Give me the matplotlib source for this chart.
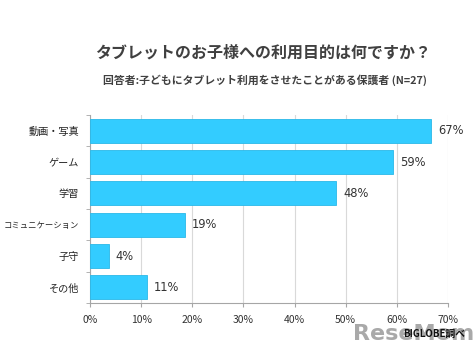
import matplotlib
matplotlib.use("Agg")
import matplotlib.pyplot as plt
from matplotlib.ticker import MultipleLocator, FuncFormatter

plt.rcParams['font.family'] = ['Noto Sans CJK JP', 'DejaVu Sans']

categories = ["動画・写真", "ゲーム", "学習", "コミュニケーション", "子守", "その他"]
values = [66.7, 59.3, 48.1, 18.5, 3.7, 11.1]
value_labels = ["67%", "59%", "48%", "19%", "4%", "11%"]
title = "タブレットのお子様への利用目的は何ですか？"
subtitle = "回答者:子どもにタブレット利用をさせたことがある保護者 (N=27)"

fig = plt.figure(figsize=(4.77, 3.5), dpi=100)
ax = fig.add_axes([0.1887, 0.1343, 0.7505, 0.537])

ypos = list(range(len(categories)))
ax.barh(ypos, values, height=0.76, color="#33CCFF", edgecolor="#2BB8E8", linewidth=0.6, zorder=3)
ax.set_ylim(len(categories) - 0.5, -0.5)
ax.set_xlim(0, 70)
ax.xaxis.set_major_locator(MultipleLocator(10))
ax.xaxis.set_major_formatter(FuncFormatter(lambda v, p: f"{int(round(v))}%"))
ax.grid(axis="x", color="#D9D9D9", linewidth=0.8, zorder=0)
ax.set_yticks(ypos)
ax.set_yticklabels(categories, fontsize=7.3, color="#222222")
for lab in ax.get_yticklabels():
    if len(lab.get_text()) > 6:
        lab.set_fontsize(6.0)
ax.set_yticks([y + 0.5 for y in [-1] + ypos], minor=True)
ax.tick_params(axis="y", which="major", length=0, pad=8)
ax.tick_params(axis="y", which="minor", length=3, color="#A6A6A6")
ax.tick_params(axis="x", length=3, color="#A6A6A6", labelsize=7.5, labelcolor="#333333", pad=6)
for s in ["top", "right"]:
    ax.spines[s].set_visible(False)
for s in ["left", "bottom"]:
    ax.spines[s].set_color("#A6A6A6")
    ax.spines[s].set_linewidth(0.8)

for y, v, lab in zip(ypos, values, value_labels):
    ax.annotate(lab, (v, y), xytext=(5, 0), textcoords="offset points",
                va="center", ha="left", fontsize=8.3, color="#333333",
                family=['DejaVu Sans'])

fig.text(0.552, 0.85, title, ha="center", va="center", fontsize=11.5,
         fontweight="bold", color="#404040")
fig.text(0.555, 0.77, subtitle, ha="center", va="center", fontsize=7.8,
         fontweight="bold", color="#404040")
fig.text(0.995, 0.045, "ReseMom", ha="right", va="center", fontsize=16,
         fontweight="bold", color="#8C8C8C", alpha=0.75, family=['DejaVu Sans'])
fig.text(0.975, 0.045, "BIGLOBE調べ", ha="right", va="center", fontsize=7,
         fontweight="bold", color="#111111")

fig.savefig("out.png", dpi=100, facecolor="white")
